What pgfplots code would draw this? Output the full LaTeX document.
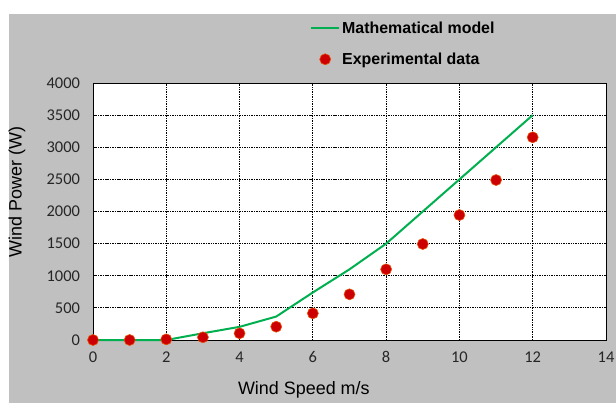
\documentclass[border=0pt]{standalone}
\usepackage{fontspec}
\setmainfont{Liberation Sans}
\newfontfamily\calibri{Carlito}
\usepackage{pgfplots}
\pgfplotsset{compat=1.18}
\definecolor{bggray}{HTML}{C0C0C0}
\definecolor{modelgreen}{HTML}{00B050}
\definecolor{dotred}{HTML}{CC0000}
\definecolor{dotedge}{HTML}{E8500A}
\pgfplotsset{
    lineleg/.style={legend image code/.code={\draw[##1] (0bp,0bp) -- (28bp,0bp);}},
    dotleg/.style={legend image code/.code={\draw[##1] plot coordinates {(14bp,0bp)};}},
}

\begin{document}
\begin{tikzpicture}
\path[use as bounding box, fill=white] (0bp,0bp) rectangle (616bp,-403bp);
\fill[bggray] (9bp,-14bp) rectangle (616bp,-403bp);
\begin{axis}[
    at={(93bp,-340bp)}, anchor=south west,
    scale only axis,
    width=513bp, height=257bp,
    xmin=0, xmax=14, ymin=0, ymax=4000,
    xtick={0,2,...,14},
    ytick={0,500,...,4000},
    axis background/.style={fill=white},
    axis line style={black, line width=1bp},
    major tick length=0pt,
    grid=major,
    major grid style={black, line width=1bp, dash pattern=on 1.5bp off 0.9bp},
    /pgf/number format/assume math mode=true,
    /pgf/number format/set thousands separator={},
    ticklabel style={font=\calibri\fontsize{16.5}{18}\selectfont, text=black!85},
    yticklabel style={xshift=-9.5bp},
    xticklabel style={yshift=-8bp},
    xlabel={Wind Speed m/s},
    ylabel={Wind Power (W)},
    label style={font=\fontsize{18}{20}\selectfont},
    xlabel style={at={(axis description cs:0.411,-0.195)}, anchor=center},
    ylabel style={at={(axis description cs:-0.148,0.576)}, anchor=center},
    clip=false,
    legend style={
        at={(axis description cs:0.423,1.247)}, anchor=north west,
        draw=none, fill=none, inner sep=0pt,
        font=\bfseries\fontsize{16}{18}\selectfont,
        row sep=14bp,
        /tikz/every even column/.append style={column sep=5bp},
    },
    legend cell align=left,
]
\addplot[color=modelgreen, line width=2bp, lineleg]
coordinates {
    (0,0) (1,0) (2,0) (3,105) (4,205) (5,365) (6,740)
    (7,1100) (8,1500) (9,2000) (10,2500) (11,3000) (12,3500)
};
\addlegendentry{Mathematical model}
\addplot[only marks, mark=*, mark size=5.5bp,
    mark options={fill=dotred, draw=dotedge, line width=0.6bp}, dotleg]
coordinates {
    (0,0) (1,0) (2,10) (3,42) (4,104) (5,207) (6,415)
    (7,711) (8,1100) (9,1494) (10,1945) (11,2490) (12,3155)
};
\addlegendentry{Experimental data}
\end{axis}
\end{tikzpicture}
\end{document}
